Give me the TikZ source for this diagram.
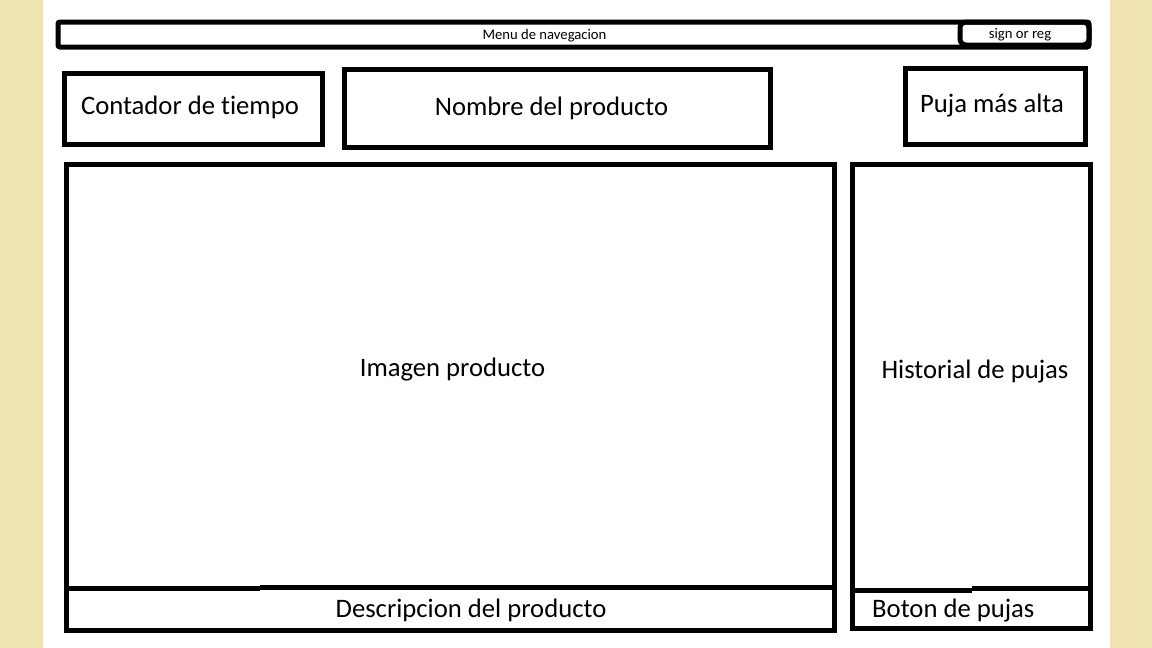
\documentclass[tikz,border=0pt]{standalone}
\usepackage{fontspec}
\setmainfont{Carlito}[Ligatures=NoCommon]
\definecolor{beige}{RGB}{239,227,176}
\tikzset{
  box/.style={draw=black, line width=5pt, rectangle, inner sep=0pt, outer sep=0pt, anchor=north west},
  bigtxt/.style={font=\fontsize{26.67}{32}\selectfont, inner sep=0pt, anchor=base},
  smalltxt/.style={font=\fontsize{14.67}{18}\selectfont, inner sep=0pt, anchor=base},
  divider/.style={draw=black, line width=5pt}
}
\begin{document}
\begin{tikzpicture}[x=1pt,y=-1pt]
\useasboundingbox (0,0) rectangle (1152,648);
\fill[beige] (0,0) rectangle (1152,648);
\fill[white] (43,0) rectangle (1110,648);
% navigation bar
\node[box, rounded corners=2pt, minimum width=1031pt, minimum height=25pt] (nav) at (58,22) {};
\node[box, rounded corners=6pt, minimum width=129pt, minimum height=23pt] (sign) at (960,22) {};
\node[smalltxt] (navtxt) at (544.5,39.5) {Menu de navegacion};
\node[smalltxt] (signtxt) at (1020,38.5) {sign or reg};
% top row
\node[box, minimum width=258pt, minimum height=71.5pt] (contador) at (64.5,73) {};
\node[bigtxt] (contadortxt) at (190,114.5) {Contador de tiempo};
\node[box, minimum width=426pt, minimum height=78pt] (nombre) at (344.5,69) {};
\node[bigtxt] (nombretxt) at (551.5,115) {Nombre del producto};
\node[box, minimum width=180pt, minimum height=76.5pt] (puja) at (905.5,68) {};
\node[bigtxt] (pujatxt) at (992,112.5) {Puja más alta};
% main area
\node[box, minimum width=768pt, minimum height=466pt] (imagen) at (66.5,164.5) {};
\node[bigtxt] (imagentxt) at (452.5,376.5) {Imagen producto};
\coordinate (dl1) at (64,588.5);
\coordinate (dm1) at (260,588.5);
\coordinate (dm2) at (260,587.5);
\coordinate (dr1) at (837,587.5);
\draw[divider] (dl1) -- (dm1);
\draw[divider] (dm2) -- (dr1);
\node[bigtxt] (desctxt) at (471,617) {Descripcion del producto};
% right column
\node[box, minimum width=237.5pt, minimum height=464pt] (historial) at (852.5,164.5) {};
\node[bigtxt] (historialtxt) at (975,378.5) {Historial de pujas};
\coordinate (hl1) at (850,590);
\coordinate (hm1) at (972,590);
\coordinate (hm2) at (972,588.5);
\coordinate (hr1) at (1093,588.5);
\draw[divider] (hl1) -- (hm1);
\draw[divider] (hm2) -- (hr1);
\node[bigtxt, anchor=base west] (botontxt) at (872,617) {Boton de pujas};
\end{tikzpicture}
\end{document}
